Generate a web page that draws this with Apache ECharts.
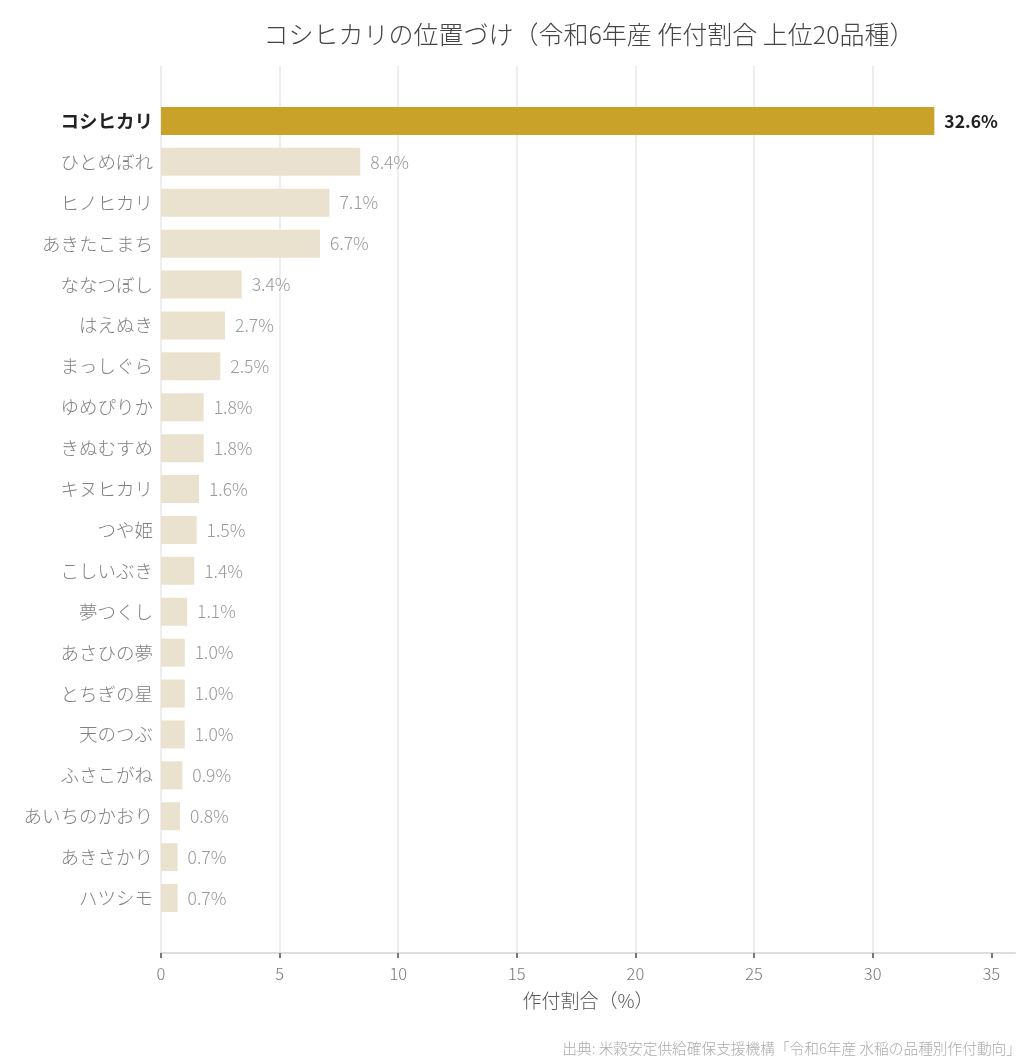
<!DOCTYPE html>
<html><head><meta charset="utf-8">
<script src="https://cdn.jsdelivr.net/npm/echarts@6/dist/echarts.min.js"></script>
<style>html,body{margin:0;padding:0;background:#fff}#c{width:1036px;height:1064px}</style>
</head><body><div id="c"></div>
<script>
var categories = ['コシヒカリ','ひとめぼれ','ヒノヒカリ','あきたこまち','ななつぼし','はえぬき','まっしぐら','ゆめぴりか','きぬむすめ','キヌヒカリ','つや姫','こしいぶき','夢つくし','あさひの夢','とちぎの星','天のつぶ','ふさこがね','あいちのかおり','あきさかり','ハツシモ'];
var shares = [32.6,8.4,7.1,6.7,3.4,2.7,2.5,1.8,1.8,1.6,1.5,1.4,1.1,1.0,1.0,1.0,0.9,0.8,0.7,0.7];
var xTicks = [0,5,10,15,20,25,30,35];
var titleText = 'コシヒカリの位置づけ（令和6年産 作付割合 上位20品種）';
var axisTitle = '作付割合（%）';
var sourceText = '出典: 米穀安定供給確保支援機構「令和6年産 水稲の品種別作付動向」';

var FONT = '"Noto Sans CJK JP", "Noto Sans", sans-serif';
var chart = echarts.init(document.getElementById('c'), null, {renderer:'canvas'});
chart.setOption({
  backgroundColor:'#fff',
  animation:false,
  textStyle:{fontFamily:FONT},
  title:[{
    text:titleText, left:584, top:17, textAlign:'center',
    textStyle:{fontFamily:FONT, fontSize:25, fontWeight:300, color:'#444'}
  },{
    text:sourceText, right:10, top:1036,
    textStyle:{fontFamily:FONT, fontSize:14.7, fontWeight:300, color:'#aaa'}
  }],
  grid:[
    {left:161, right:21, top:66, bottom:111, containLabel:false},
    {left:161, right:21, top:100.5, bottom:145.5, containLabel:false}
  ],
  xAxis:[{
    gridIndex:0, type:'value', min:0, max:36, interval:5,
    name:axisTitle, nameLocation:'middle', nameGap:38,
    nameTextStyle:{fontFamily:FONT, fontSize:19, fontWeight:300, color:'#555'},
    axisLine:{show:true, lineStyle:{color:'#ddd', width:2}},
    axisTick:{show:true, length:5, lineStyle:{color:'#777', width:2}, customValues:xTicks},
    axisLabel:{fontFamily:FONT, fontSize:16.5, fontWeight:300, color:'#777', margin:12, customValues:xTicks},
    splitLine:{show:true, showMaxLine:false, lineStyle:{color:'#eee', width:2}}
  },{
    gridIndex:1, type:'value', min:0, max:36, interval:5, show:false,
    splitLine:{show:false}
  }],
  yAxis:[{
    gridIndex:0, type:'value', min:0, max:1, show:false, splitLine:{show:false}
  },{
    gridIndex:1, type:'category', data:categories, inverse:true,
    axisLine:{show:false}, axisTick:{show:false},
    axisLabel:{
      margin:8, fontFamily:FONT,
      formatter:function(v,i){ return i===0 ? '{top|'+v+'}' : '{n|'+v+'}'; },
      rich:{
        top:{fontFamily:FONT, fontSize:18.5, fontWeight:'bold', color:'#222'},
        n:{fontFamily:FONT, fontSize:18.5, fontWeight:300, color:'#808080'}
      }
    }
  }],
  series:[{
    type:'bar', xAxisIndex:1, yAxisIndex:1, barWidth:28,
    data:shares.map(function(v,i){
      return {value:v,
        itemStyle:{color: i===0 ? '#C9A22A' : '#EAE2CE'},
        label:{color: i===0 ? '#222' : '#999', fontWeight: i===0 ? 'bold':300}};
    }),
    label:{show:true, position:'right', distance:10, fontFamily:FONT, fontSize:17.5,
      formatter:function(p){ return p.value.toFixed(1)+'%'; }}
  }]
});
</script></body></html>
